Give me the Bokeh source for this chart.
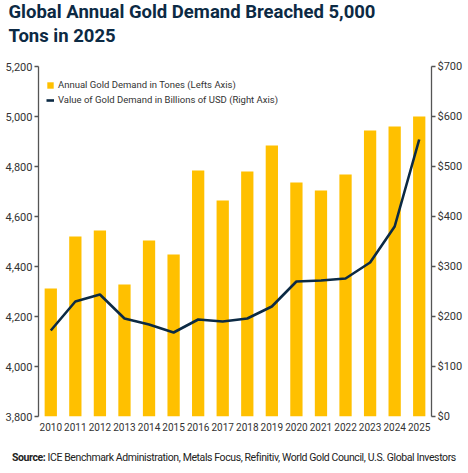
from bokeh.plotting import figure
from bokeh.models import (FactorRange, Range1d, LinearAxis, Legend, LegendItem,
                          NumeralTickFormatter, FixedTicker, Title, Div)
from bokeh.layouts import column
from bokeh.embed import file_html
from bokeh.resources import INLINE

years = [str(y) for y in range(2010, 2026)]
demand_tons = [4312, 4520, 4544, 4328, 4504, 4448, 4784, 4664, 4780, 4884,
               4736, 4704, 4768, 4944, 4960, 5000]
value_busd = [172, 230, 244, 196, 184, 168, 194, 190, 196, 220,
              270, 272, 276, 308, 380, 554]

title_lines = ["Global Annual Gold Demand Breached 5,000", "Tons in 2025"]
source_bold = "Source:"
source_text = "ICE Benchmark Administration, Metals Focus, Refinitiv, World Gold Council, U.S. Global Investors"
legend_bar = "Annual Gold Demand in Tones (Lefts Axis)"
legend_line = "Value of Gold Demand in Billions of USD (Right Axis)"

GOLD = "#FFC000"
NAVY = "#0C2A44"
AXIS = "#555555"
TXT = "#333333"
FONT = "Roboto"

p = figure(width=468, height=445, x_range=FactorRange(*years),
           y_range=Range1d(3800, 5200), output_backend="svg",
           toolbar_location=None, min_border_left=38, min_border_right=37,
           min_border_top=66, min_border_bottom=29)
p.x_range.range_padding = 0
p.extra_y_ranges = {"usd": Range1d(0, 700)}
p.outline_line_color = None
p.grid.visible = False

bars = p.vbar(x=years, top=demand_tons, bottom=3800, width=0.5,
              color=GOLD, line_color=None)
line = p.line(x=years, y=value_busd, y_range_name="usd",
              line_color=NAVY, line_width=2.6)

# left axis: tonnes
ya = p.yaxis[0]
ya.ticker = FixedTicker(ticks=list(range(3800, 5201, 200)))
ya.formatter = NumeralTickFormatter(format="0,0")

# right axis: USD billions
ra = LinearAxis(y_range_name="usd", ticker=FixedTicker(ticks=list(range(0, 701, 100))),
                formatter=NumeralTickFormatter(format="$0"))
p.add_layout(ra, "right")

for ax in (ya, ra):
    ax.axis_line_color = AXIS
    ax.axis_line_width = 1.3
    ax.major_tick_line_color = AXIS
    ax.major_tick_line_width = 1.3
    ax.major_tick_out = 4
    ax.major_tick_in = 0
    ax.minor_tick_line_color = None
    ax.major_label_text_font = FONT
    ax.major_label_text_font_size = "11px"
    ax.major_label_text_color = TXT
    ax.major_label_standoff = 2

xa = p.xaxis[0]
xa.axis_line_color = None
xa.major_tick_line_color = None
xa.major_label_text_font = FONT
xa.major_label_text_font_size = "10px"
xa.major_label_text_color = TXT
xa.major_label_standoff = 0

legend = Legend(items=[LegendItem(label=legend_bar, renderers=[bars]),
                       LegendItem(label=legend_line, renderers=[line])],
                location=(8, 311), margin=0, border_line_color=None,
                background_fill_alpha=0, label_text_font=FONT,
                label_text_font_size="9.5px", label_text_color=TXT,
                glyph_width=8, glyph_height=8, spacing=4, padding=0,
                label_standoff=4, label_height=11)
p.add_layout(legend)

# two-line headline; later titles stack further from the plot
p.add_layout(Title(text=title_lines[1], text_font=FONT, text_font_style="bold",
                   text_font_size="18.5px", text_color=NAVY, align="left",
                   offset=-30, standoff=40), "above")
p.add_layout(Title(text=title_lines[0], text_font=FONT, text_font_style="bold",
                   text_font_size="18.5px", text_color=NAVY, align="left",
                   offset=-30, standoff=-40), "above")

source = Div(text=f"<b>{source_bold}</b> {source_text}", width=468, height=28,
             styles={"font-family": FONT, "font-size": "10.5px", "color": "#222222",
                     "letter-spacing": "-0.4px", "padding-left": "12px",
                     "padding-top": "5px", "white-space": "nowrap"},
             margin=(0, 0, 0, 0))

open("out.html", "w").write(file_html(column(p, source, spacing=0), INLINE))
